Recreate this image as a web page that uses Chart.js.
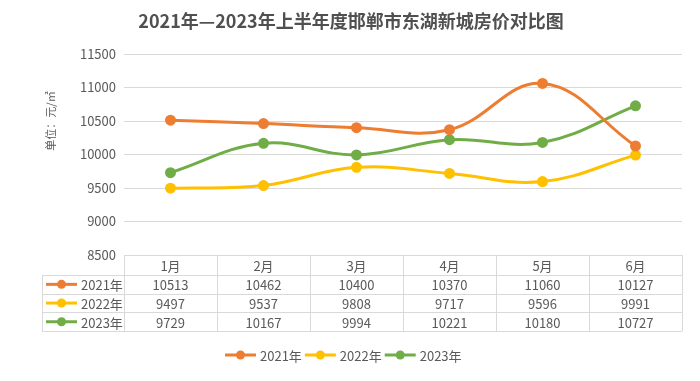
<!DOCTYPE html>
<html lang="zh">
<head>
    <meta charset="UTF-8">
    <script src="https://cdnjs.cloudflare.com/ajax/libs/Chart.js/4.4.1/chart.umd.min.js"></script>
    <title>东湖新城房价对比图</title>
    <style>
        body { margin: 0; padding: 0; background: #fff; }
        .wrap { width: 700px; height: 381px; position: relative; }
    </style>
</head>
<body>
    <div class="wrap"><canvas id="priceChart" width="700" height="381"></canvas></div>
    <script>
        // 数据
        const months = ['1月', '2月', '3月', '4月', '5月', '6月'];
        const seriesNames = ['2021年', '2022年', '2023年'];
        const prices2021 = [10513, 10462, 10400, 10370, 11060, 10127];
        const prices2022 = [9497, 9537, 9808, 9717, 9596, 9991];
        const prices2023 = [9729, 10167, 9994, 10221, 10180, 10727];
        const yMin = 8500, yMax = 11500, yStep = 500;

        const colors = ['#ED7D31', '#FFC000', '#70AD47'];
        const FONT = "'Noto Sans CJK SC', 'Noto Sans', sans-serif";
        const TXT = '#595959';
        const GRID = '#d9d9d9';

        const allSeries = [prices2021, prices2022, prices2023];

        // 画 线+圆点 的图例标记
        function drawKey(ctx, x, y, color) {
            ctx.strokeStyle = color;
            ctx.lineWidth = 3;
            ctx.beginPath();
            ctx.moveTo(x, y);
            ctx.lineTo(x + 31, y);
            ctx.stroke();
            ctx.fillStyle = color;
            ctx.beginPath();
            ctx.arc(x + 15.5, y, 4.5, 0, Math.PI * 2);
            ctx.fill();
        }

        const extras = {
            id: 'extras',
            afterDraw(chart) {
                const ctx = chart.ctx;
                const area = chart.chartArea;
                const xs = chart.scales.x;
                ctx.save();

                // 标题
                ctx.fillStyle = '#505050';
                ctx.font = 'bold 18px ' + FONT;
                ctx.textAlign = 'center';
                ctx.textBaseline = 'middle';
                ctx.fillText('2021年—2023年上半年度邯郸市东湖新城房价对比图', 351, 21);

                // 纵轴标题
                ctx.fillStyle = TXT;
                ctx.save();
                ctx.translate(51, 121);
                ctx.rotate(-Math.PI / 2);
                ctx.font = '11px ' + FONT;
                ctx.fillText('单位：元/㎡', 0, 0);
                ctx.restore();

                // 数据表
                const tableLeft = 42;
                const top = area.bottom;
                const headH = 20;
                const rowH = 18.7;
                const bottom = top + headH + rowH * 3;
                const colW = (area.right - area.left) / months.length;

                ctx.strokeStyle = GRID;
                ctx.lineWidth = 1;
                ctx.beginPath();
                ctx.moveTo(area.left, top + 0.5);
                ctx.lineTo(area.right, top + 0.5);
                for (let r = 0; r <= 3; r++) {
                    const y = Math.round(top + headH + rowH * r) + 0.5;
                    ctx.moveTo(tableLeft, y);
                    ctx.lineTo(area.right, y);
                }
                ctx.moveTo(tableLeft + 0.5, top + headH);
                ctx.lineTo(tableLeft + 0.5, bottom);
                for (let c = 0; c <= months.length; c++) {
                    const x = Math.round(area.left + colW * c) + 0.5;
                    ctx.moveTo(x, top);
                    ctx.lineTo(x, bottom);
                }
                ctx.stroke();

                ctx.font = '13px ' + FONT;
                ctx.fillStyle = TXT;
                ctx.textAlign = 'center';
                months.forEach((m, i) => {
                    ctx.fillText(m, xs.getPixelForValue(i), top + headH / 2 + 1);
                });
                allSeries.forEach((vals, r) => {
                    const y = top + headH + rowH * r + rowH / 2 + 1;
                    ctx.fillStyle = TXT;
                    ctx.textAlign = 'center';
                    vals.forEach((v, i) => {
                        ctx.fillText(String(v), xs.getPixelForValue(i), y);
                    });
                    drawKey(ctx, 46, y - 1, colors[r]);
                    ctx.fillStyle = TXT;
                    ctx.textAlign = 'left';
                    ctx.fillText(seriesNames[r], 81, y);
                });

                // 底部图例
                const legendY = 355;
                let lx = 225;
                seriesNames.forEach((name, r) => {
                    drawKey(ctx, lx, legendY, colors[r]);
                    ctx.fillStyle = TXT;
                    ctx.textAlign = 'left';
                    ctx.font = '13px ' + FONT;
                    ctx.fillText(name, lx + 35, legendY + 1);
                    lx += 35 + ctx.measureText(name).width + 3;
                });

                ctx.restore();
            }
        };

        const ctx = document.getElementById('priceChart').getContext('2d');
        new Chart(ctx, {
            type: 'line',
            data: {
                labels: months,
                datasets: seriesNames.map((name, i) => ({
                    label: name,
                    data: allSeries[i],
                    borderColor: colors[i],
                    backgroundColor: colors[i],
                    borderWidth: 3,
                    pointRadius: 4,
                    pointHoverRadius: 4,
                    tension: 0.4,
                    fill: false
                }))
            },
            options: {
                responsive: false,
                animation: false,
                layout: { padding: { left: 0, right: 18, top: 54, bottom: 126 } },
                plugins: {
                    legend: { display: false },
                    title: { display: false },
                    tooltip: { enabled: false }
                },
                scales: {
                    x: {
                        display: false,
                        offset: true
                    },
                    y: {
                        min: yMin,
                        max: yMax,
                        afterFit(scale) { scale.width = 124; },
                        border: { display: false },
                        grid: { color: GRID, drawTicks: false, lineWidth: 1 },
                        ticks: {
                            stepSize: yStep,
                            padding: 8,
                            color: TXT,
                            font: { family: FONT, size: 13 },
                            callback: (v) => String(v)
                        }
                    }
                }
            },
            plugins: [extras]
        });
    </script>
</body>
</html>
